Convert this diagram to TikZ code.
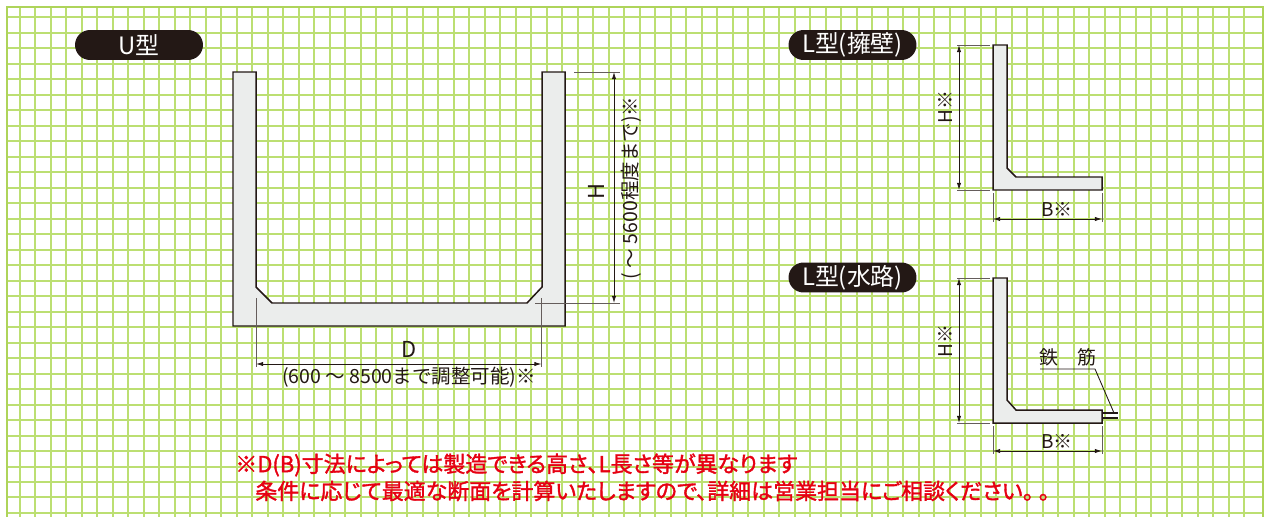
\documentclass[tikz,border=0pt]{standalone}
\usepackage{fontspec}
\setmainfont{Noto Sans CJK JP}
\newfontfamily\notefont[RawFeature={+palt;embolden=1.6}]{Noto Sans CJK JP}
\usetikzlibrary{positioning}
\usetikzlibrary{shapes.misc}
\usetikzlibrary{arrows.meta}
\definecolor{gridgreen}{HTML}{BCDF72}
\definecolor{framegreen}{HTML}{AED45A}
\definecolor{inkdark}{HTML}{231815}
\definecolor{concrete}{HTML}{EBEDEC}
\definecolor{notered}{HTML}{E60012}
\tikzset{
	pill/.style = {rounded rectangle, fill=inkdark, text=white, minimum width=2.56cm, minimum height=0.6cm, inner sep=0pt, font=\fontsize{13.6}{16}\selectfont},
	wall/.style = {draw=inkdark, fill=concrete, line width=0.85pt, line join=miter},
	dimline/.style = {{Latex[length=4pt,width=2.4pt]}-{Latex[length=4pt,width=2.4pt]}, inkdark, line width=0.45pt},
	extline/.style = {inkdark!70, line width=0.45pt},
	leader/.style = {inkdark, line width=0.5pt},
	dimtext/.style = {text=inkdark, inner sep=0pt, font=\fontsize{10.8}{12}\selectfont},
	rangetext/.style = {dimtext, font=\fontsize{11.1}{13}\selectfont},
	bigtext/.style = {dimtext, font=\fontsize{12.5}{14}\selectfont},
	note/.style = {text=notered, inner sep=0pt, anchor=west, font=\notefont\fontsize{12.5}{14}\selectfont}
}

\begin{document}
\begin{tikzpicture}[x=0.02cm, y=-0.02cm]
		\useasboundingbox (0,0) rectangle (1264,517);
		% grid
		\foreach \i in {0,...,79} {
			\pgfmathsetmacro{\gx}{round(20+15.495*\i)}
			\draw[gridgreen, line width=0.88pt] (\gx,7) -- (\gx,517);
		}
		\foreach \j in {0,...,32} {
			\pgfmathsetmacro{\gy}{round(17.3+15.49*\j)}
			\draw[gridgreen, line width=0.88pt] (7,\gy) -- (1263,\gy);
		}
		% frame
		\draw[framegreen, line width=1.7pt] (7,517) -- (7,7) -- (1263,7) -- (1263,517);

		% U type
		\node[pill] (utype) at (139,45) {U型};
		\draw[wall] (233,72) -- (256,72) -- (256,287) -- (272,303) -- (527,303) -- (542,287) -- (542,72) -- (565,72) -- (565,326) -- (233,326) -- cycle;
		\coordinate (uDa) at (256,364);
		\coordinate (uDb) at (541.5,364);
		\coordinate (uDaup) at (256,298);
		\coordinate (uDbup) at (541.5,298);
		\coordinate (uDalow) at (256,367);
		\coordinate (uDblow) at (541.5,367);
		\draw[extline] (uDaup) -- (uDalow);
		\draw[extline] (uDbup) -- (uDblow);
		\draw[dimline] (uDa) -- (uDb);
		\node[bigtext] (uDtext) at (409,349) {D};
		\node[rangetext] (uDrange) at (409,377) {(600 〜 8500まで調整可能)※};
		\coordinate (uHa) at (614,72);
		\coordinate (uHb) at (614,303);
		\coordinate (uHaleft) at (574,72);
		\coordinate (uHaright) at (620,72);
		\coordinate (uHbleft) at (535,303);
		\coordinate (uHbright) at (620,303);
		\draw[extline] (uHaleft) -- (uHaright);
		\draw[extline] (uHbleft) -- (uHbright);
		\draw[dimline] (uHa) -- (uHb);
		\node[bigtext, rotate=90] (uHtext) at (596,192) {H};
		\node[rangetext, rotate=90] (uHrange) at (631,188) {( 〜 5600程度まで)※};

		% L type, retaining wall
		\node[pill] (ltype) at (852.5,45) {L型(擁壁)};
		\draw[wall] (993,45) -- (1007,45) -- (1007,168) -- (1016,177) -- (1102,177) -- (1102,190) -- (993,190) -- cycle;
		\coordinate (lHa) at (959,45);
		\coordinate (lHb) at (959,190);
		\coordinate (lHaleft) at (957,45);
		\coordinate (lHaright) at (990,45);
		\coordinate (lHbleft) at (957,190);
		\coordinate (lHbright) at (990,190);
		\draw[extline] (lHaleft) -- (lHaright);
		\draw[extline] (lHbleft) -- (lHbright);
		\draw[dimline] (lHa) -- (lHb);
		\node[dimtext, rotate=90] (lHtext) at (945,107) {H※};
		\coordinate (lBa) at (993,219);
		\coordinate (lBb) at (1102,219);
		\coordinate (lBaup) at (993,193);
		\coordinate (lBbup) at (1102,193);
		\coordinate (lBalow) at (993,222);
		\coordinate (lBblow) at (1102,222);
		\draw[extline] (lBaup) -- (lBalow);
		\draw[extline] (lBbup) -- (lBblow);
		\draw[dimline] (lBa) -- (lBb);
		\node[dimtext] (lBtext) at (1057,209) {B※};

		% L type, water channel
		\node[pill] (wtype) at (852.5,277.5) {L型(水路)};
		\draw[wall] (993,278) -- (1007,278) -- (1007,400) -- (1016,410) -- (1102,410) -- (1102,423) -- (993,423) -- cycle;
		\coordinate (wHa) at (959,278);
		\coordinate (wHb) at (959,423);
		\coordinate (wHaleft) at (957,278);
		\coordinate (wHaright) at (990,278);
		\coordinate (wHbleft) at (957,423);
		\coordinate (wHbright) at (990,423);
		\draw[extline] (wHaleft) -- (wHaright);
		\draw[extline] (wHbleft) -- (wHbright);
		\draw[dimline] (wHa) -- (wHb);
		\node[dimtext, rotate=90] (wHtext) at (945,341) {H※};
		\coordinate (wBa) at (993,451);
		\coordinate (wBb) at (1102,451);
		\coordinate (wBaup) at (993,426);
		\coordinate (wBbup) at (1102,426);
		\coordinate (wBalow) at (993,454);
		\coordinate (wBblow) at (1102,454);
		\draw[extline] (wBaup) -- (wBalow);
		\draw[extline] (wBbup) -- (wBblow);
		\draw[dimline] (wBa) -- (wBb);
		\node[dimtext] (wBtext) at (1057,441) {B※};
		% rebar
		\coordinate (barAa) at (1102,413);
		\coordinate (barAb) at (1118,413);
		\coordinate (barBa) at (1102,418);
		\coordinate (barBb) at (1118,418);
		\draw[wall] (barAa) -- (barAb);
		\draw[wall] (barBa) -- (barBb);
		\node[dimtext] (tetsu) at (1049,357) {鉄};
		\node[dimtext] (kin) at (1087,357) {筋};
		\coordinate (leadA) at (1040,369);
		\coordinate (leadB) at (1095,369);
		\coordinate (leadC) at (1114,413);
		\draw[leader] (leadA) -- (leadB) -- (leadC);

		% note
		\node[note] (noteA) at (235,465) {※D(B)寸法によっては製造できる高さ、L長さ等が異なります};
		\node[note] (noteB) at (255,491) {条件に応じて最適な断面を計算いたしますので、詳細は営業担当にご相談ください。 。};
	\end{tikzpicture}
\end{document}
